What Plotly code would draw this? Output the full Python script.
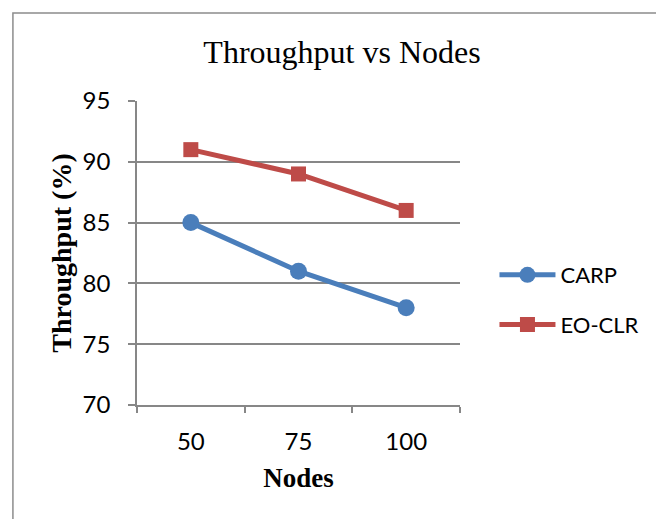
import plotly.graph_objects as go

nodes = ["50", "75", "100"]
carp = [85, 81, 78]
eoclr = [91, 89, 86]

W, H = 656, 519
L, R, T, B = 137, 465, 101, 405
pw, ph = R - L, B - T

def px2x(p):
    return (p - L) / pw

def py2y(p):
    return (B - p) / ph

fig = go.Figure()
fig.add_trace(go.Scatter(
    x=nodes, y=carp, name="CARP", mode="lines+markers", legendgroup="a",
    line=dict(color="#4A7EBB", width=5),
    marker=dict(symbol="circle", size=17, color="#4A7EBB"),
))
fig.add_trace(go.Scatter(
    x=nodes, y=eoclr, name="EO-CLR", mode="lines+markers", legendgroup="b",
    line=dict(color="#BE4B48", width=5),
    marker=dict(symbol="square", size=15, color="#BE4B48"),
))

grid = "#878787"
fig.update_layout(
    width=W, height=H,
    margin=dict(l=L, r=W - R, t=T, b=H - B, pad=0),
    paper_bgcolor="white", plot_bgcolor="white",
    title=dict(text="Throughput vs Nodes", x=342 / W, xanchor="center",
               y=1 - 52 / H, yanchor="middle",
               font=dict(family="Liberation Serif", size=32, color="black")),
    xaxis=dict(type="category", range=[-0.5, 2.5], showgrid=False,
               showline=True, linecolor=grid, linewidth=1.5,
               ticks="outside", ticklen=6, tickcolor=grid, tickwidth=1.5,
               tickson="boundaries", ticklabelstandoff=14,
               tickfont=dict(family="Lato", size=24, color="black"),
               title=dict(text="<b>Nodes</b>", standoff=15,
                          font=dict(family="Liberation Serif", size=27, color="black"))),
    yaxis=dict(range=[70, 95], dtick=5, showgrid=True, gridcolor=grid, gridwidth=1.5,
               showline=True, linecolor=grid, linewidth=1.5, zeroline=False,
               ticks="outside", ticklen=7, tickcolor=grid, tickwidth=1.5,
               ticklabelstandoff=13,
               tickfont=dict(family="Lato", size=24, color="black"),
               title=dict(text="<b>Throughput (%)</b>", standoff=3,
                          font=dict(family="Liberation Serif", size=28, color="black"))),
    legend=dict(x=px2x(500), y=py2y(254), xanchor="left", yanchor="top",
                font=dict(family="Lato", size=22, color="black"),
                itemwidth=56, tracegroupgap=18, bgcolor="rgba(0,0,0,0)"),
    shapes=[dict(type="rect", xref="paper", yref="paper",
                 x0=px2x(11), x1=px2x(720), y0=py2y(580), y1=py2y(13),
                 line=dict(color="#8C8C8C", width=1.5), layer="below")],
)

fig.write_html(
    "out.html",
    config={"displayModeBar": False},
    post_script="document.body.style.margin='0';document.body.style.overflow='hidden';",
)
